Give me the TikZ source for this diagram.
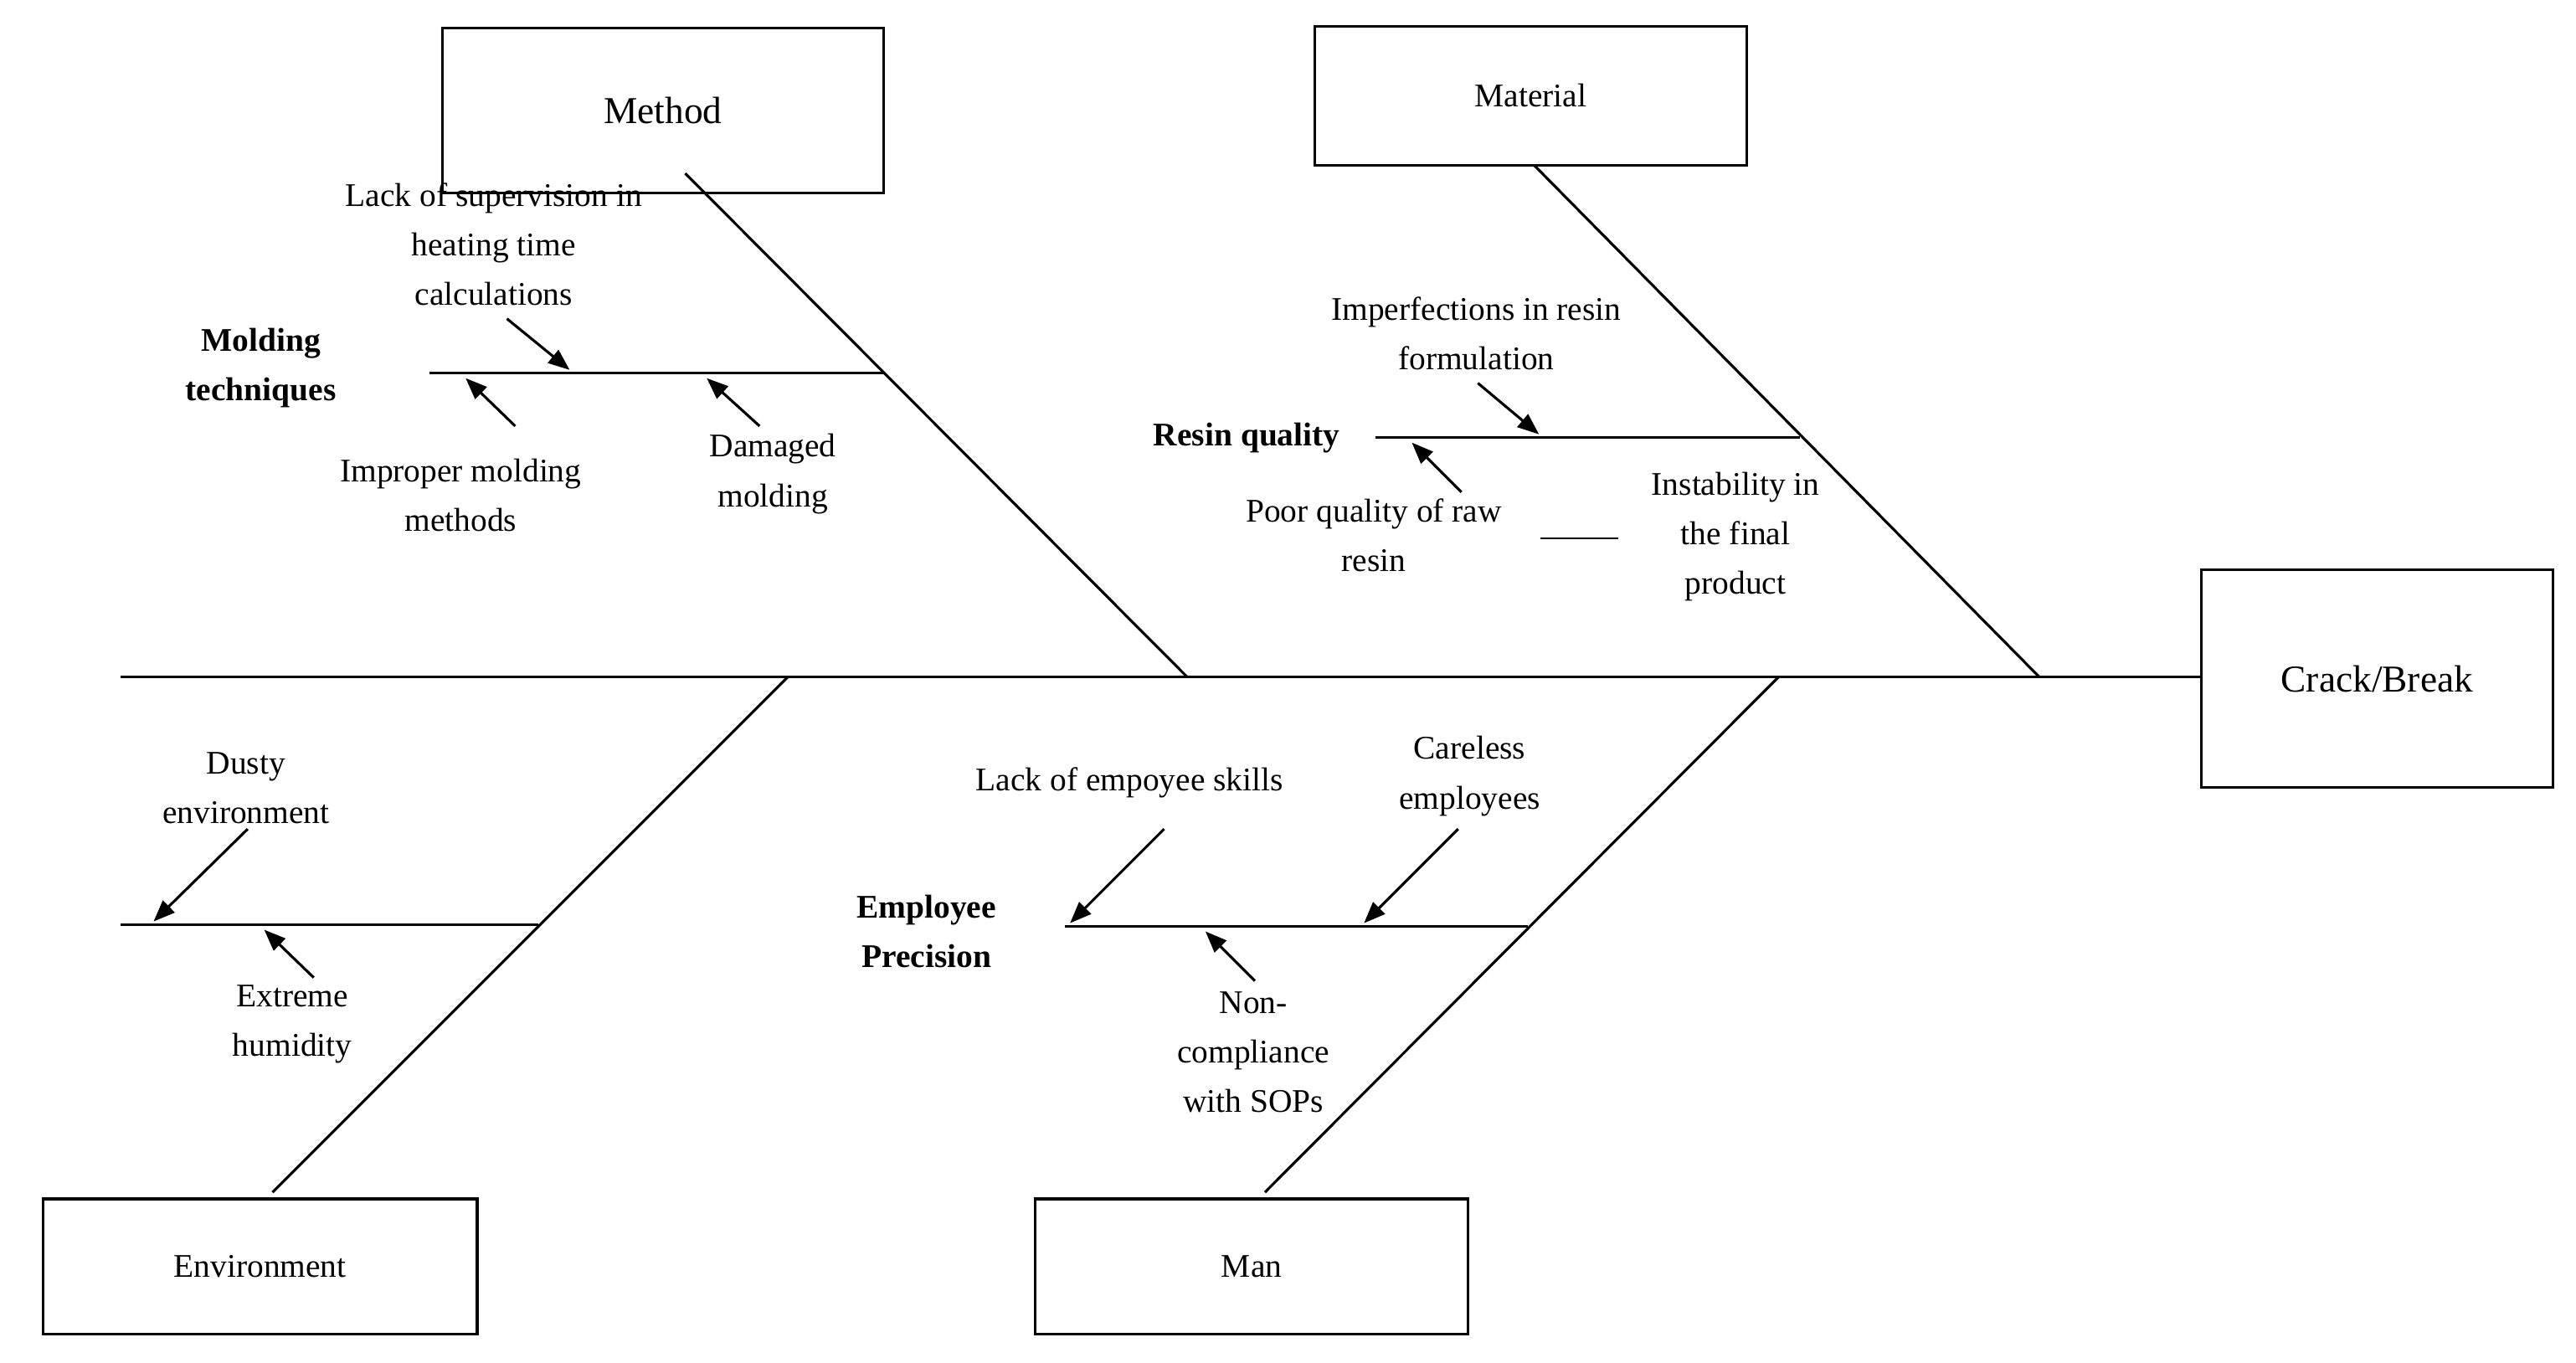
\documentclass[tikz,border=0pt]{standalone}
\usepackage{fontspec}
\setmainfont{Liberation Serif}
\usetikzlibrary{arrows.meta}
\begin{document}
\begin{tikzpicture}[x=1pt,y=-1pt,line width=1.6pt,
 box/.style={draw,minimum width=0pt},
 t/.style={font=\fontsize{20}{30}\selectfont,align=center},
 b/.style={t,font=\fontsize{20}{30}\selectfont\bfseries},
 ar/.style={-{Triangle[length=13pt,width=10pt]}}]
\useasboundingbox (0,0) rectangle (1560,825);
% boxes
\draw (268,17) rectangle (535,117) node[t,midway,font=\fontsize{23}{30}\selectfont] (method) {Method};
\draw (796,16) rectangle (1058,100) node[t,midway] (material) {Material};
\draw (26,726) rectangle (289,808) node[t,midway] (env) {Environment};
\draw (627,726) rectangle (889,808) node[t,midway] (man) {Man};
\draw (1333,345) rectangle (1546,477) node[t,midway,font=\fontsize{23}{30}\selectfont] (crack) {Crack/Break};
% spine and bones
\coordinate (s0) at (73,410); \coordinate (s1) at (1333,410);
\draw (s0) -- (s1);
\coordinate (m0) at (415,105); \coordinate (m1) at (719,410);
\coordinate (a0) at (929,100); \coordinate (a1) at (1235,410);
\coordinate (e0) at (165,722); \coordinate (e1) at (477,410);
\coordinate (n0) at (766,722); \coordinate (n1) at (1077,410);
\draw (m0) -- (m1); \draw (a0) -- (a1); \draw (e0) -- (e1); \draw (n0) -- (n1);
% sub branches
\coordinate (mb0) at (260,226); \coordinate (mb1) at (535,226);
\coordinate (ab0) at (833,265); \coordinate (ab1) at (1090,265);
\coordinate (eb0) at (73,560); \coordinate (eb1) at (326,560);
\coordinate (nb0) at (645,561); \coordinate (nb1) at (925,561);
\draw (mb0)--(mb1); \draw (ab0)--(ab1); \draw (eb0)--(eb1); \draw (nb0)--(nb1);
% arrows method
\coordinate (p1) at (307,193); \coordinate (q1) at (345,224);
\coordinate (p2) at (312,258); \coordinate (q2) at (282,229);
\coordinate (p3) at (460,258); \coordinate (q3) at (428,229);
\draw[ar] (p1)--(q1); \draw[ar] (p2)--(q2); \draw[ar] (p3)--(q3);
% material
\coordinate (p4) at (895,232); \coordinate (q4) at (932,263);
\coordinate (p5) at (885,298); \coordinate (q5) at (855,268);
\draw[ar] (p4)--(q4); \draw[ar] (p5)--(q5);
\coordinate (l0) at (933,326); \coordinate (l1) at (980,326);
\draw[line width=1.2pt] (l0)--(l1);
% environment
\coordinate (p6) at (150,502); \coordinate (q6) at (93,558);
\coordinate (p7) at (190,592); \coordinate (q7) at (160,563);
\draw[ar] (p6)--(q6); \draw[ar] (p7)--(q7);
% man
\coordinate (p8) at (705,502); \coordinate (q8) at (648,559);
\coordinate (p9) at (883,502); \coordinate (q9) at (826,559);
\coordinate (p10) at (760,594); \coordinate (q10) at (730,564);
\draw[ar] (p8)--(q8); \draw[ar] (p9)--(q9); \draw[ar] (p10)--(q10);
% labels
\node[t] (t1) at (299,148) {Lack of supervision in\\heating time\\calculations};
\node[b] (t2) at (158,223) {Molding\\techniques};
\node[t] (t3) at (279,300) {Improper molding\\methods};
\node[t] (t4) at (468,287) {Damaged\\molding};
\node[t] (t5) at (894,202) {Imperfections in resin\\formulation};
\node[b] (t6) at (755,265) {Resin quality};
\node[t] (t7) at (832,324) {Poor quality of raw\\resin};
\node[t] (t8) at (1051,325) {Instability in\\the final\\product};
\node[t] (t9) at (149,477) {Dusty\\environment};
\node[t] (t10) at (177,620) {Extreme\\humidity};
\node[t] (t11) at (684,474) {Lack of empoyee skills};
\node[t] (t12) at (890,470) {Careless\\employees};
\node[b] (t13) at (561,564) {Employee\\Precision};
\node[t] (t14) at (759,637) {Non-\\compliance\\with SOPs};
\end{tikzpicture}
\end{document}
